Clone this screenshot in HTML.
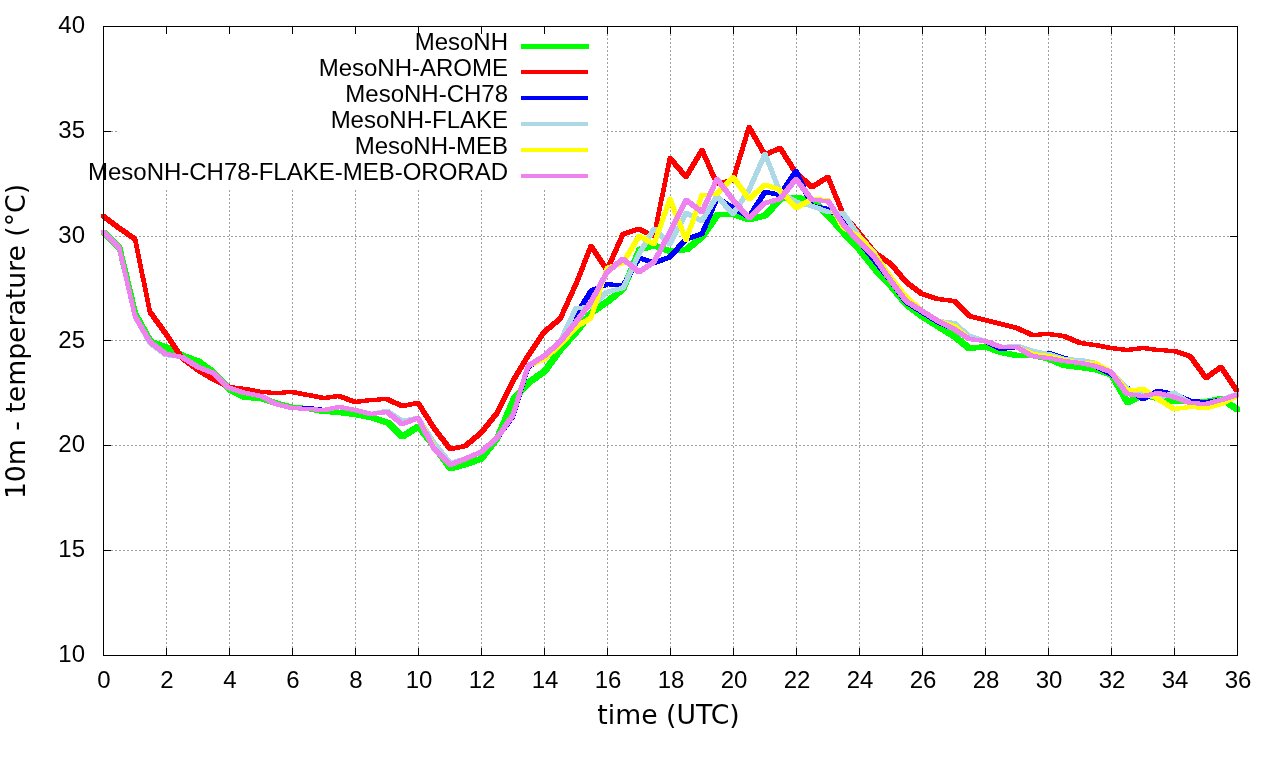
<!DOCTYPE html>
<html><head><meta charset="utf-8"><title>10m temperature</title>
<style>
html,body{margin:0;padding:0;background:#fff;}
svg{display:block;}
.tk{font-family:"Liberation Sans",Arial,sans-serif;font-size:24px;fill:#000;}
.ax{font-family:"DejaVu Sans",Verdana,sans-serif;font-size:26.67px;fill:#000;}
</style></head><body>
<svg width="1280" height="760" viewBox="0 0 1280 760">
<rect x="0" y="0" width="1280" height="760" fill="#ffffff"/>
<g stroke="#a0a0a0" stroke-width="1" stroke-dasharray="2,2" fill="none" shape-rendering="crispEdges"><line x1="166.5" y1="26" x2="166.5" y2="656"/><line x1="229.5" y1="26" x2="229.5" y2="656"/><line x1="292.5" y1="26" x2="292.5" y2="656"/><line x1="355.5" y1="26" x2="355.5" y2="656"/><line x1="418.5" y1="26" x2="418.5" y2="656"/><line x1="481.5" y1="26" x2="481.5" y2="656"/><line x1="544.5" y1="26" x2="544.5" y2="656"/><line x1="607.5" y1="26" x2="607.5" y2="656"/><line x1="670.5" y1="26" x2="670.5" y2="656"/><line x1="733.5" y1="26" x2="733.5" y2="656"/><line x1="796.5" y1="26" x2="796.5" y2="656"/><line x1="859.5" y1="26" x2="859.5" y2="656"/><line x1="922.5" y1="26" x2="922.5" y2="656"/><line x1="985.5" y1="26" x2="985.5" y2="656"/><line x1="1048.5" y1="26" x2="1048.5" y2="656"/><line x1="1111.5" y1="26" x2="1111.5" y2="656"/><line x1="1174.5" y1="26" x2="1174.5" y2="656"/><line x1="103" y1="550.5" x2="1238" y2="550.5"/><line x1="103" y1="445.5" x2="1238" y2="445.5"/><line x1="103" y1="340.5" x2="1238" y2="340.5"/><line x1="103" y1="236.5" x2="1238" y2="236.5"/><line x1="103" y1="131.5" x2="1238" y2="131.5"/></g>
<g stroke="#000" stroke-width="1" fill="none" shape-rendering="crispEdges"><line x1="166.5" y1="656" x2="166.5" y2="648"/><line x1="166.5" y1="26" x2="166.5" y2="34"/><line x1="229.5" y1="656" x2="229.5" y2="648"/><line x1="229.5" y1="26" x2="229.5" y2="34"/><line x1="292.5" y1="656" x2="292.5" y2="648"/><line x1="292.5" y1="26" x2="292.5" y2="34"/><line x1="355.5" y1="656" x2="355.5" y2="648"/><line x1="355.5" y1="26" x2="355.5" y2="34"/><line x1="418.5" y1="656" x2="418.5" y2="648"/><line x1="418.5" y1="26" x2="418.5" y2="34"/><line x1="481.5" y1="656" x2="481.5" y2="648"/><line x1="481.5" y1="26" x2="481.5" y2="34"/><line x1="544.5" y1="656" x2="544.5" y2="648"/><line x1="544.5" y1="26" x2="544.5" y2="34"/><line x1="607.5" y1="656" x2="607.5" y2="648"/><line x1="607.5" y1="26" x2="607.5" y2="34"/><line x1="670.5" y1="656" x2="670.5" y2="648"/><line x1="670.5" y1="26" x2="670.5" y2="34"/><line x1="733.5" y1="656" x2="733.5" y2="648"/><line x1="733.5" y1="26" x2="733.5" y2="34"/><line x1="796.5" y1="656" x2="796.5" y2="648"/><line x1="796.5" y1="26" x2="796.5" y2="34"/><line x1="859.5" y1="656" x2="859.5" y2="648"/><line x1="859.5" y1="26" x2="859.5" y2="34"/><line x1="922.5" y1="656" x2="922.5" y2="648"/><line x1="922.5" y1="26" x2="922.5" y2="34"/><line x1="985.5" y1="656" x2="985.5" y2="648"/><line x1="985.5" y1="26" x2="985.5" y2="34"/><line x1="1048.5" y1="656" x2="1048.5" y2="648"/><line x1="1048.5" y1="26" x2="1048.5" y2="34"/><line x1="1111.5" y1="656" x2="1111.5" y2="648"/><line x1="1111.5" y1="26" x2="1111.5" y2="34"/><line x1="1174.5" y1="656" x2="1174.5" y2="648"/><line x1="1174.5" y1="26" x2="1174.5" y2="34"/><line x1="103" y1="550.5" x2="111" y2="550.5"/><line x1="1238" y1="550.5" x2="1230" y2="550.5"/><line x1="103" y1="445.5" x2="111" y2="445.5"/><line x1="1238" y1="445.5" x2="1230" y2="445.5"/><line x1="103" y1="340.5" x2="111" y2="340.5"/><line x1="1238" y1="340.5" x2="1230" y2="340.5"/><line x1="103" y1="236.5" x2="111" y2="236.5"/><line x1="1238" y1="236.5" x2="1230" y2="236.5"/><line x1="103" y1="131.5" x2="111" y2="131.5"/><line x1="1238" y1="131.5" x2="1230" y2="131.5"/></g>
<text class="tk" x="104.0" y="688" text-anchor="middle">0</text><text class="tk" x="167.0" y="688" text-anchor="middle">2</text><text class="tk" x="230.0" y="688" text-anchor="middle">4</text><text class="tk" x="293.0" y="688" text-anchor="middle">6</text><text class="tk" x="356.0" y="688" text-anchor="middle">8</text><text class="tk" x="419.0" y="688" text-anchor="middle">10</text><text class="tk" x="482.0" y="688" text-anchor="middle">12</text><text class="tk" x="545.0" y="688" text-anchor="middle">14</text><text class="tk" x="608.0" y="688" text-anchor="middle">16</text><text class="tk" x="671.0" y="688" text-anchor="middle">18</text><text class="tk" x="734.0" y="688" text-anchor="middle">20</text><text class="tk" x="797.0" y="688" text-anchor="middle">22</text><text class="tk" x="860.0" y="688" text-anchor="middle">24</text><text class="tk" x="923.0" y="688" text-anchor="middle">26</text><text class="tk" x="986.0" y="688" text-anchor="middle">28</text><text class="tk" x="1049.0" y="688" text-anchor="middle">30</text><text class="tk" x="1112.0" y="688" text-anchor="middle">32</text><text class="tk" x="1175.0" y="688" text-anchor="middle">34</text><text class="tk" x="1238.0" y="688" text-anchor="middle">36</text>
<text class="tk" x="85" y="662.0" text-anchor="end">10</text><text class="tk" x="85" y="557.2" text-anchor="end">15</text><text class="tk" x="85" y="452.3" text-anchor="end">20</text><text class="tk" x="85" y="347.5" text-anchor="end">25</text><text class="tk" x="85" y="242.7" text-anchor="end">30</text><text class="tk" x="85" y="137.8" text-anchor="end">35</text><text class="tk" x="85" y="33.0" text-anchor="end">40</text>
<text class="ax" x="668.5" y="724" text-anchor="middle">time (UTC)</text>
<text class="ax" transform="translate(25,341.5) rotate(-90)" text-anchor="middle">10m - temperature (°C)</text>
<rect x="117" y="34" width="485" height="156" fill="#fff"/>
<text class="tk" x="508" y="49.5" text-anchor="end">MesoNH</text><rect x="521" y="44" width="68" height="5" fill="#00ff00" shape-rendering="crispEdges"/>
<text class="tk" x="508" y="75.5" text-anchor="end">MesoNH-AROME</text><rect x="521" y="70" width="67" height="4" fill="#ff0000" shape-rendering="crispEdges"/>
<text class="tk" x="508" y="101.5" text-anchor="end">MesoNH-CH78</text><rect x="521" y="96" width="67" height="4" fill="#0000ff" shape-rendering="crispEdges"/>
<text class="tk" x="508" y="127.5" text-anchor="end">MesoNH-FLAKE</text><rect x="521" y="122" width="67" height="4" fill="#add8e6" shape-rendering="crispEdges"/>
<text class="tk" x="508" y="153.5" text-anchor="end">MesoNH-MEB</text><rect x="521" y="148" width="67" height="4" fill="#ffff00" shape-rendering="crispEdges"/>
<text class="tk" x="508" y="179.5" text-anchor="end">MesoNH-CH78-FLAKE-MEB-ORORAD</text><rect x="521" y="174" width="67" height="4" fill="#ee82ee" shape-rendering="crispEdges"/>
<path fill="#00ff00" stroke="none" shape-rendering="crispEdges" d="M101,230L106,230L122,245L122,250L117,250L101,235ZM117,245L122,245L138,312L138,317L133,317L117,250ZM133,312L138,312L153,339L153,344L148,344L133,317ZM148,339L153,339L169,345L169,350L164,350L148,344ZM164,345L169,345L185,353L185,358L180,358L164,350ZM180,353L185,353L201,359L201,364L196,364L180,358ZM196,359L201,359L216,370L216,375L211,375L196,364ZM211,370L216,370L232,387L232,392L227,392L211,375ZM227,387L232,387L248,395L248,400L243,400L227,392ZM243,395L248,395L264,396L264,401L259,401L243,400ZM259,396L264,396L279,401L279,406L274,406L259,401ZM274,401L279,401L295,405L295,410L290,410L274,406ZM290,405L295,405L311,406L311,411L306,411L290,410ZM306,406L311,406L327,409L327,414L322,414L306,411ZM322,409L327,409L342,410L342,415L337,415L322,414ZM337,410L342,410L358,412L358,417L353,417L337,415ZM353,412L358,412L374,415L374,420L369,420L353,417ZM369,415L374,415L390,420L390,425L385,425L369,420ZM385,420L390,420L405,434L405,439L400,439L385,425ZM400,434L416,424L421,424L421,429L405,439L400,439ZM416,424L421,424L437,444L437,449L432,449L416,429ZM432,444L437,444L453,466L453,471L448,471L432,449ZM448,466L463,462L468,462L468,467L453,471L448,471ZM463,462L479,456L484,456L484,461L468,467L463,467ZM479,456L495,435L500,435L500,440L484,461L479,461ZM495,435L511,397L516,397L516,402L500,440L495,440ZM511,397L526,380L531,380L531,385L516,402L511,402ZM526,380L542,369L547,369L547,374L531,385L526,385ZM542,369L558,347L563,347L563,352L547,374L542,374ZM558,347L574,329L579,329L579,334L563,352L558,352ZM574,329L589,310L594,310L594,315L579,334L574,334ZM589,310L605,299L610,299L610,304L594,315L589,315ZM605,299L621,286L626,286L626,291L610,304L605,304ZM621,286L637,247L642,247L642,252L626,291L621,291ZM637,247L652,243L657,243L657,248L642,252L637,252ZM652,243L657,243L673,249L673,254L668,254L652,248ZM668,249L684,247L689,247L689,252L673,254L668,254ZM684,247L700,234L705,234L705,239L689,252L684,252ZM700,234L715,212L720,212L720,217L705,239L700,239ZM715,212L736,212L736,217L715,217ZM731,212L736,212L752,217L752,222L747,222L731,217ZM747,217L763,213L768,213L768,218L752,222L747,222ZM763,213L778,196L783,196L783,201L768,218L763,218ZM778,196L794,195L799,195L799,200L783,201L778,201ZM794,195L799,195L815,198L815,203L810,203L794,200ZM810,198L815,198L831,213L831,218L826,218L810,203ZM826,213L831,213L846,230L846,235L841,235L826,218ZM841,230L846,230L862,247L862,252L857,252L841,235ZM857,247L862,247L878,267L878,272L873,272L857,252ZM873,267L878,267L894,284L894,289L889,289L873,272ZM889,284L894,284L909,302L909,307L904,307L889,289ZM904,302L909,302L925,314L925,319L920,319L904,307ZM920,314L925,314L941,324L941,329L936,329L920,319ZM936,324L941,324L957,334L957,339L952,339L936,329ZM952,334L957,334L972,346L972,351L967,351L952,339ZM967,346L983,344L988,344L988,349L972,351L967,351ZM983,344L988,344L1004,350L1004,355L999,355L983,349ZM999,350L1004,350L1020,353L1020,358L1015,358L999,355ZM1015,353L1035,353L1035,358L1015,358ZM1030,353L1035,353L1051,356L1051,361L1046,361L1030,358ZM1046,356L1051,356L1067,363L1067,368L1062,368L1046,361ZM1062,363L1067,363L1083,365L1083,370L1078,370L1062,368ZM1078,365L1083,365L1098,367L1098,372L1093,372L1078,370ZM1093,367L1098,367L1114,372L1114,377L1109,377L1093,372ZM1109,372L1114,372L1130,400L1130,405L1125,405L1109,377ZM1125,400L1141,392L1146,392L1146,397L1130,405L1125,405ZM1141,392L1146,392L1161,396L1161,401L1156,401L1141,397ZM1156,396L1161,396L1177,399L1177,404L1172,404L1156,401ZM1172,399L1193,399L1193,404L1172,404ZM1188,399L1209,399L1209,404L1188,404ZM1204,399L1219,396L1224,396L1224,401L1209,404L1204,404ZM1219,396L1224,396L1240,407L1240,412L1235,412L1219,401Z"/>
<path fill="#ff0000" stroke="none" shape-rendering="crispEdges" d="M101,214L105,214L121,226L121,230L117,230L101,218ZM117,226L121,226L137,237L137,241L133,241L117,230ZM133,237L137,237L152,310L152,314L148,314L133,241ZM148,310L152,310L168,332L168,336L164,336L148,314ZM164,332L168,332L184,356L184,360L180,360L164,336ZM180,356L184,356L200,368L200,372L196,372L180,360ZM196,368L200,368L215,377L215,381L211,381L196,372ZM211,377L215,377L231,385L231,389L227,389L211,381ZM227,385L231,385L247,387L247,391L243,391L227,389ZM243,387L247,387L263,390L263,394L259,394L243,391ZM259,390L263,390L278,391L278,395L274,395L259,394ZM274,391L290,390L294,390L294,394L278,395L274,395ZM290,390L294,390L310,393L310,397L306,397L290,394ZM306,393L310,393L326,396L326,400L322,400L306,397ZM322,396L337,394L341,394L341,398L326,400L322,400ZM337,394L341,394L357,400L357,404L353,404L337,398ZM353,400L369,398L373,398L373,402L357,404L353,404ZM369,398L385,397L389,397L389,401L373,402L369,402ZM385,397L389,397L404,404L404,408L400,408L385,401ZM400,404L416,401L420,401L420,405L404,408L400,408ZM416,401L420,401L436,426L436,430L432,430L416,405ZM432,426L436,426L452,447L452,451L448,451L432,430ZM448,447L463,444L467,444L467,448L452,451L448,451ZM463,444L479,431L483,431L483,435L467,448L463,448ZM479,431L495,411L499,411L499,415L483,435L479,435ZM495,411L511,379L515,379L515,383L499,415L495,415ZM511,379L526,354L530,354L530,358L515,383L511,383ZM526,354L542,330L546,330L546,334L530,358L526,358ZM542,330L558,317L562,317L562,321L546,334L542,334ZM558,317L574,282L578,282L578,286L562,321L558,321ZM574,282L589,244L593,244L593,248L578,286L574,286ZM589,244L593,244L609,268L609,272L605,272L589,248ZM605,268L621,232L625,232L625,236L609,272L605,272ZM621,232L637,227L641,227L641,231L625,236L621,236ZM637,227L641,227L656,234L656,238L652,238L637,231ZM652,234L668,156L672,156L672,160L656,238L652,238ZM668,156L672,156L688,175L688,179L684,179L668,160ZM684,175L700,148L704,148L704,152L688,179L684,179ZM700,148L704,148L719,182L719,186L715,186L700,152ZM715,182L731,178L735,178L735,182L719,186L715,186ZM731,178L747,125L751,125L751,129L735,182L731,182ZM747,125L751,125L767,153L767,157L763,157L747,129ZM763,153L778,146L782,146L782,150L767,157L763,157ZM778,146L782,146L798,171L798,175L794,175L778,150ZM794,171L798,171L814,185L814,189L810,189L794,175ZM810,185L826,175L830,175L830,179L814,189L810,189ZM826,175L830,175L845,212L845,216L841,216L826,179ZM841,212L845,212L861,231L861,235L857,235L841,216ZM857,231L861,231L877,251L877,255L873,255L857,235ZM873,251L877,251L893,262L893,266L889,266L873,255ZM889,262L893,262L908,280L908,284L904,284L889,266ZM904,280L908,280L924,292L924,296L920,296L904,284ZM920,292L924,292L940,297L940,301L936,301L920,296ZM936,297L940,297L956,299L956,303L952,303L936,301ZM952,299L956,299L971,314L971,318L967,318L952,303ZM967,314L971,314L987,318L987,322L983,322L967,318ZM983,318L987,318L1003,322L1003,326L999,326L983,322ZM999,322L1003,322L1019,326L1019,330L1015,330L999,326ZM1015,326L1019,326L1034,333L1034,337L1030,337L1015,330ZM1030,333L1046,332L1050,332L1050,336L1034,337L1030,337ZM1046,332L1050,332L1066,334L1066,338L1062,338L1046,336ZM1062,334L1066,334L1082,341L1082,345L1078,345L1062,338ZM1078,341L1082,341L1097,343L1097,347L1093,347L1078,345ZM1093,343L1097,343L1113,346L1113,350L1109,350L1093,347ZM1109,346L1113,346L1129,348L1129,352L1125,352L1109,350ZM1125,348L1141,346L1145,346L1145,350L1129,352L1125,352ZM1141,346L1145,346L1160,348L1160,352L1156,352L1141,350ZM1156,348L1160,348L1176,349L1176,353L1172,353L1156,352ZM1172,349L1176,349L1192,354L1192,358L1188,358L1172,353ZM1188,354L1192,354L1208,376L1208,380L1204,380L1188,358ZM1204,376L1219,365L1223,365L1223,369L1208,380L1204,380ZM1219,365L1223,365L1239,389L1239,393L1235,393L1219,369Z"/>
<path fill="#0000ff" stroke="none" shape-rendering="crispEdges" d="M101,230L105,230L121,245L121,249L117,249L101,234ZM117,245L121,245L137,314L137,318L133,318L117,249ZM133,314L137,314L152,340L152,344L148,344L133,318ZM148,340L152,340L168,352L168,356L164,356L148,344ZM164,352L168,352L184,355L184,359L180,359L164,356ZM180,355L184,355L200,365L200,369L196,369L180,359ZM196,365L200,365L215,371L215,375L211,375L196,369ZM211,371L215,371L231,386L231,390L227,390L211,375ZM227,386L231,386L247,391L247,395L243,395L227,390ZM243,391L247,391L263,394L263,398L259,398L243,395ZM259,394L263,394L278,402L278,406L274,406L259,398ZM274,402L278,402L294,406L294,410L290,410L274,406ZM290,406L310,406L310,410L290,410ZM306,406L310,406L326,408L326,412L322,412L306,410ZM322,408L337,405L341,405L341,409L326,412L322,412ZM337,405L341,405L357,408L357,412L353,412L337,409ZM353,408L357,408L373,412L373,416L369,416L353,412ZM369,412L385,410L389,410L389,414L373,416L369,416ZM385,410L389,410L404,422L404,426L400,426L385,414ZM400,422L416,416L420,416L420,420L404,426L400,426ZM416,416L420,416L436,447L436,451L432,451L416,420ZM432,447L436,447L452,463L452,467L448,467L432,451ZM448,463L463,457L467,457L467,461L452,467L448,467ZM463,457L479,450L483,450L483,454L467,461L463,461ZM479,450L495,436L499,436L499,440L483,454L479,454ZM495,436L511,414L515,414L515,418L499,440L495,440ZM511,414L526,365L530,365L530,369L515,418L511,418ZM526,365L542,354L546,354L546,358L530,369L526,369ZM542,354L558,340L562,340L562,344L546,358L542,358ZM558,340L574,313L578,313L578,317L562,344L558,344ZM574,313L589,289L593,289L593,293L578,317L574,317ZM589,289L605,282L609,282L609,286L593,293L589,293ZM605,282L609,282L625,284L625,288L621,288L605,286ZM621,284L637,256L641,256L641,260L625,288L621,288ZM637,256L641,256L656,261L656,265L652,265L637,260ZM652,261L668,255L672,255L672,259L656,265L652,265ZM668,255L684,237L688,237L688,241L672,259L668,259ZM684,237L700,232L704,232L704,236L688,241L684,241ZM700,232L715,196L719,196L719,200L704,236L700,236ZM715,196L719,196L735,206L735,210L731,210L715,200ZM731,206L735,206L751,215L751,219L747,219L731,210ZM747,215L763,190L767,190L767,194L751,219L747,219ZM763,190L767,190L782,193L782,197L778,197L763,194ZM778,193L794,169L798,169L798,173L782,197L778,197ZM794,169L798,169L814,204L814,208L810,208L794,173ZM810,204L814,204L830,207L830,211L826,211L810,208ZM826,207L830,207L845,217L845,221L841,221L826,211ZM841,217L845,217L861,239L861,243L857,243L841,221ZM857,239L861,239L877,259L877,263L873,263L857,243ZM873,259L877,259L893,279L893,283L889,283L873,263ZM889,279L893,279L908,300L908,304L904,304L889,283ZM904,300L908,300L924,310L924,314L920,314L904,304ZM920,310L924,310L940,320L940,324L936,324L920,314ZM936,320L940,320L956,327L956,331L952,331L936,324ZM952,327L956,327L971,337L971,341L967,341L952,331ZM967,337L971,337L987,339L987,343L983,343L967,341ZM983,339L987,339L1003,347L1003,351L999,351L983,343ZM999,347L1015,345L1019,345L1019,349L1003,351L999,351ZM1015,345L1019,345L1034,350L1034,354L1030,354L1015,349ZM1030,350L1034,350L1050,351L1050,355L1046,355L1030,354ZM1046,351L1050,351L1066,356L1066,360L1062,360L1046,355ZM1062,356L1066,356L1082,361L1082,365L1078,365L1062,360ZM1078,361L1082,361L1097,364L1097,368L1093,368L1078,365ZM1093,364L1097,364L1113,372L1113,376L1109,376L1093,368ZM1109,372L1113,372L1129,386L1129,390L1125,390L1109,376ZM1125,386L1129,386L1145,397L1145,401L1141,401L1125,390ZM1141,397L1156,389L1160,389L1160,393L1145,401L1141,401ZM1156,389L1160,389L1176,392L1176,396L1172,396L1156,393ZM1172,392L1176,392L1192,399L1192,403L1188,403L1172,396ZM1188,399L1192,399L1208,400L1208,404L1204,404L1188,403ZM1204,400L1219,398L1223,398L1223,402L1208,404L1204,404ZM1219,398L1235,393L1239,393L1239,397L1223,402L1219,402Z"/>
<path fill="#add8e6" stroke="none" shape-rendering="crispEdges" d="M101,230L105,230L121,245L121,249L117,249L101,234ZM117,245L121,245L137,314L137,318L133,318L117,249ZM133,314L137,314L152,341L152,345L148,345L133,318ZM148,341L152,341L168,353L168,357L164,357L148,345ZM164,353L168,353L184,355L184,359L180,359L164,357ZM180,355L184,355L200,365L200,369L196,369L180,359ZM196,365L200,365L215,371L215,375L211,375L196,369ZM211,371L215,371L231,386L231,390L227,390L211,375ZM227,386L231,386L247,391L247,395L243,395L227,390ZM243,391L247,391L263,394L263,398L259,398L243,395ZM259,394L263,394L278,402L278,406L274,406L259,398ZM274,402L278,402L294,406L294,410L290,410L274,406ZM290,406L294,406L310,407L310,411L306,411L290,410ZM306,407L310,407L326,408L326,412L322,412L306,411ZM322,408L337,405L341,405L341,409L326,412L322,412ZM337,405L341,405L357,408L357,412L353,412L337,409ZM353,408L357,408L373,412L373,416L369,416L353,412ZM369,412L385,409L389,409L389,413L373,416L369,416ZM385,409L389,409L404,419L404,423L400,423L385,413ZM400,419L416,416L420,416L420,420L404,423L400,423ZM416,416L420,416L436,441L436,445L432,445L416,420ZM432,441L436,441L452,461L452,465L448,465L432,445ZM448,461L463,457L467,457L467,461L452,465L448,465ZM463,457L479,450L483,450L483,454L467,461L463,461ZM479,450L495,436L499,436L499,440L483,454L479,454ZM495,436L511,413L515,413L515,417L499,440L495,440ZM511,413L526,364L530,364L530,368L515,417L511,417ZM526,364L542,354L546,354L546,358L530,368L526,368ZM542,354L558,340L562,340L562,344L546,358L542,358ZM558,340L574,306L578,306L578,310L562,344L558,344ZM574,306L589,305L593,305L593,309L578,310L574,310ZM589,305L605,290L609,290L609,294L593,309L589,309ZM605,290L621,286L625,286L625,290L609,294L605,294ZM621,286L637,252L641,252L641,256L625,290L621,290ZM637,252L652,227L656,227L656,231L641,256L637,256ZM652,227L656,227L672,242L672,246L668,246L652,231ZM668,242L684,211L688,211L688,215L672,246L668,246ZM684,211L688,211L704,219L704,223L700,223L684,215ZM700,219L715,194L719,194L719,198L704,223L700,223ZM715,194L719,194L735,212L735,216L731,216L715,198ZM731,212L747,188L751,188L751,192L735,216L731,216ZM747,188L763,152L767,152L767,156L751,192L747,192ZM763,152L767,152L782,190L782,194L778,194L763,156ZM778,190L782,190L798,200L798,204L794,204L778,194ZM794,200L798,200L814,204L814,208L810,208L794,204ZM810,204L814,204L830,210L830,214L826,214L810,208ZM826,210L830,210L845,211L845,215L841,215L826,214ZM841,211L845,211L861,234L861,238L857,238L841,215ZM857,234L861,234L877,252L877,256L873,256L857,238ZM873,252L877,252L893,279L893,283L889,283L873,256ZM889,279L893,279L908,299L908,303L904,303L889,283ZM904,299L908,299L924,309L924,313L920,313L904,303ZM920,309L924,309L940,319L940,323L936,323L920,313ZM936,319L940,319L956,321L956,325L952,325L936,323ZM952,321L956,321L971,334L971,338L967,338L952,325ZM967,334L971,334L987,339L987,343L983,343L967,338ZM983,339L987,339L1003,345L1003,349L999,349L983,343ZM999,345L1015,344L1019,344L1019,348L1003,349L999,349ZM1015,344L1019,344L1034,349L1034,353L1030,353L1015,348ZM1030,349L1034,349L1050,352L1050,356L1046,356L1030,353ZM1046,352L1050,352L1066,357L1066,361L1062,361L1046,356ZM1062,357L1066,357L1082,358L1082,362L1078,362L1062,361ZM1078,358L1082,358L1097,361L1097,365L1093,365L1078,362ZM1093,361L1097,361L1113,370L1113,374L1109,374L1093,365ZM1109,370L1113,370L1129,387L1129,391L1125,391L1109,374ZM1125,387L1129,387L1145,392L1145,396L1141,396L1125,391ZM1141,392L1145,392L1160,396L1160,400L1156,400L1141,396ZM1156,396L1172,391L1176,391L1176,395L1160,400L1156,400ZM1172,391L1176,391L1192,401L1192,405L1188,405L1172,395ZM1188,401L1192,401L1208,402L1208,406L1204,406L1188,405ZM1204,402L1219,398L1223,398L1223,402L1208,406L1204,406ZM1219,398L1235,392L1239,392L1239,396L1223,402L1219,402Z"/>
<path fill="#ffff00" stroke="none" shape-rendering="crispEdges" d="M101,230L105,230L121,245L121,249L117,249L101,234ZM117,245L121,245L137,314L137,318L133,318L117,249ZM133,314L137,314L152,340L152,344L148,344L133,318ZM148,340L152,340L168,352L168,356L164,356L148,344ZM164,352L168,352L184,355L184,359L180,359L164,356ZM180,355L184,355L200,365L200,369L196,369L180,359ZM196,365L200,365L215,371L215,375L211,375L196,369ZM211,371L215,371L231,386L231,390L227,390L211,375ZM227,386L231,386L247,391L247,395L243,395L227,390ZM243,391L247,391L263,394L263,398L259,398L243,395ZM259,394L263,394L278,402L278,406L274,406L259,398ZM274,402L278,402L294,406L294,410L290,410L274,406ZM290,406L294,406L310,407L310,411L306,411L290,410ZM306,407L310,407L326,408L326,412L322,412L306,411ZM322,408L337,405L341,405L341,409L326,412L322,412ZM337,405L341,405L357,408L357,412L353,412L337,409ZM353,408L357,408L373,412L373,416L369,416L353,412ZM369,412L385,410L389,410L389,414L373,416L369,416ZM385,410L389,410L404,422L404,426L400,426L385,414ZM400,422L416,416L420,416L420,420L404,426L400,426ZM416,416L420,416L436,446L436,450L432,450L416,420ZM432,446L436,446L452,463L452,467L448,467L432,450ZM448,463L463,457L467,457L467,461L452,467L448,467ZM463,457L479,450L483,450L483,454L467,461L463,461ZM479,450L495,436L499,436L499,440L483,454L479,454ZM495,436L511,413L515,413L515,417L499,440L495,440ZM511,413L526,364L530,364L530,368L515,417L511,417ZM526,364L542,357L546,357L546,361L530,368L526,368ZM542,357L558,343L562,343L562,347L546,361L542,361ZM558,343L574,325L578,325L578,329L562,347L558,347ZM574,325L589,316L593,316L593,320L578,329L574,329ZM589,316L605,266L609,266L609,270L593,320L589,320ZM605,266L621,261L625,261L625,265L609,270L605,270ZM621,261L637,234L641,234L641,238L625,265L621,265ZM637,234L641,234L656,242L656,246L652,246L637,238ZM652,242L668,197L672,197L672,201L656,246L652,246ZM668,197L672,197L688,238L688,242L684,242L668,201ZM684,238L700,193L704,193L704,197L688,242L684,242ZM700,193L715,192L719,192L719,196L704,197L700,197ZM715,192L731,175L735,175L735,179L719,196L715,196ZM731,175L735,175L751,197L751,201L747,201L731,179ZM747,197L763,183L767,183L767,187L751,201L747,201ZM763,183L767,183L782,188L782,192L778,192L763,187ZM778,188L782,188L798,206L798,210L794,210L778,192ZM794,206L810,197L814,197L814,201L798,210L794,210ZM810,197L814,197L830,198L830,202L826,202L810,201ZM826,198L830,198L845,225L845,229L841,229L826,202ZM841,225L845,225L861,235L861,239L857,239L841,229ZM857,235L861,235L877,253L877,257L873,257L857,239ZM873,253L877,253L893,276L893,280L889,280L873,257ZM889,276L893,276L908,295L908,299L904,299L889,280ZM904,295L908,295L924,309L924,313L920,313L904,299ZM920,309L924,309L940,319L940,323L936,323L920,313ZM936,319L940,319L956,324L956,328L952,328L936,323ZM952,324L956,324L971,337L971,341L967,341L952,328ZM967,337L971,337L987,339L987,343L983,343L967,341ZM983,339L987,339L1003,345L1003,349L999,349L983,343ZM999,345L1019,345L1019,349L999,349ZM1015,345L1019,345L1034,352L1034,356L1030,356L1015,349ZM1030,352L1034,352L1050,354L1050,358L1046,358L1030,356ZM1046,354L1050,354L1066,358L1066,362L1062,362L1046,358ZM1062,358L1066,358L1082,361L1082,365L1078,365L1062,362ZM1078,361L1097,361L1097,365L1078,365ZM1093,361L1097,361L1113,370L1113,374L1109,374L1093,365ZM1109,370L1113,370L1129,389L1129,393L1125,393L1109,374ZM1125,389L1141,387L1145,387L1145,391L1129,393L1125,393ZM1141,387L1145,387L1160,397L1160,401L1156,401L1141,391ZM1156,397L1160,397L1176,407L1176,411L1172,411L1156,401ZM1172,407L1188,405L1192,405L1192,409L1176,411L1172,411ZM1188,405L1192,405L1208,406L1208,410L1204,410L1188,409ZM1204,406L1219,402L1223,402L1223,406L1208,410L1204,410ZM1219,402L1235,394L1239,394L1239,398L1223,406L1219,406Z"/>
<path fill="#ee82ee" stroke="none" shape-rendering="crispEdges" d="M101,230L105,230L121,245L121,249L117,249L101,234ZM117,245L121,245L137,314L137,318L133,318L117,249ZM133,314L137,314L152,340L152,344L148,344L133,318ZM148,340L152,340L168,352L168,356L164,356L148,344ZM164,352L168,352L184,355L184,359L180,359L164,356ZM180,355L184,355L200,365L200,369L196,369L180,359ZM196,365L200,365L215,371L215,375L211,375L196,369ZM211,371L215,371L231,386L231,390L227,390L211,375ZM227,386L231,386L247,391L247,395L243,395L227,390ZM243,391L247,391L263,394L263,398L259,398L243,395ZM259,394L263,394L278,402L278,406L274,406L259,398ZM274,402L278,402L294,406L294,410L290,410L274,406ZM290,406L294,406L310,407L310,411L306,411L290,410ZM306,407L310,407L326,408L326,412L322,412L306,411ZM322,408L337,405L341,405L341,409L326,412L322,412ZM337,405L341,405L357,408L357,412L353,412L337,409ZM353,408L357,408L373,412L373,416L369,416L353,412ZM369,412L385,410L389,410L389,414L373,416L369,416ZM385,410L389,410L404,422L404,426L400,426L385,414ZM400,422L416,416L420,416L420,420L404,426L400,426ZM416,416L420,416L436,447L436,451L432,451L416,420ZM432,447L436,447L452,463L452,467L448,467L432,451ZM448,463L463,457L467,457L467,461L452,467L448,467ZM463,457L479,450L483,450L483,454L467,461L463,461ZM479,450L495,436L499,436L499,440L483,454L479,454ZM495,436L511,413L515,413L515,417L499,440L495,440ZM511,413L526,364L530,364L530,368L515,417L511,417ZM526,364L542,354L546,354L546,358L530,368L526,368ZM542,354L558,340L562,340L562,344L546,358L542,358ZM558,340L574,320L578,320L578,324L562,344L558,344ZM574,320L589,300L593,300L593,304L578,324L574,324ZM589,300L605,270L609,270L609,274L593,304L589,304ZM605,270L621,257L625,257L625,261L609,274L605,274ZM621,257L625,257L641,270L641,274L637,274L621,261ZM637,270L652,260L656,260L656,264L641,274L637,274ZM652,260L668,230L672,230L672,234L656,264L652,264ZM668,230L684,198L688,198L688,202L672,234L668,234ZM684,198L688,198L704,210L704,214L700,214L684,202ZM700,210L715,177L719,177L719,181L704,214L700,214ZM715,177L719,177L735,198L735,202L731,202L715,181ZM731,198L735,198L751,216L751,220L747,220L731,202ZM747,216L763,201L767,201L767,205L751,220L747,220ZM763,201L778,197L782,197L782,201L767,205L763,205ZM778,197L794,177L798,177L798,181L782,201L778,201ZM794,177L798,177L814,198L814,202L810,202L794,181ZM810,198L814,198L830,199L830,203L826,203L810,202ZM826,199L830,199L845,222L845,226L841,226L826,203ZM841,222L845,222L861,240L861,244L857,244L841,226ZM857,240L861,240L877,256L877,260L873,260L857,244ZM873,256L877,256L893,279L893,283L889,283L873,260ZM889,279L893,279L908,299L908,303L904,303L889,283ZM904,299L908,299L924,309L924,313L920,313L904,303ZM920,309L924,309L940,319L940,323L936,323L920,313ZM936,319L940,319L956,327L956,331L952,331L936,323ZM952,327L956,327L971,337L971,341L967,341L952,331ZM967,337L971,337L987,339L987,343L983,343L967,341ZM983,339L987,339L1003,345L1003,349L999,349L983,343ZM999,345L1019,345L1019,349L999,349ZM1015,345L1019,345L1034,354L1034,358L1030,358L1015,349ZM1030,354L1034,354L1050,356L1050,360L1046,360L1030,358ZM1046,356L1050,356L1066,359L1066,363L1062,363L1046,360ZM1062,359L1066,359L1082,361L1082,365L1078,365L1062,363ZM1078,361L1082,361L1097,364L1097,368L1093,368L1078,365ZM1093,364L1097,364L1113,370L1113,374L1109,374L1093,368ZM1109,370L1113,370L1129,392L1129,396L1125,396L1109,374ZM1125,392L1129,392L1145,394L1145,398L1141,398L1125,396ZM1141,394L1156,391L1160,391L1160,395L1145,398L1141,398ZM1156,391L1160,391L1176,395L1176,399L1172,399L1156,395ZM1172,395L1176,395L1192,401L1192,405L1188,405L1172,399ZM1188,401L1192,401L1208,402L1208,406L1204,406L1188,405ZM1204,402L1219,398L1223,398L1223,402L1208,406L1204,406ZM1219,398L1235,393L1239,393L1239,397L1223,402L1219,402Z"/>
<rect x="103.5" y="26.5" width="1134.0" height="629.0" fill="none" stroke="#000" stroke-width="1" shape-rendering="crispEdges"/>
</svg></body></html>
